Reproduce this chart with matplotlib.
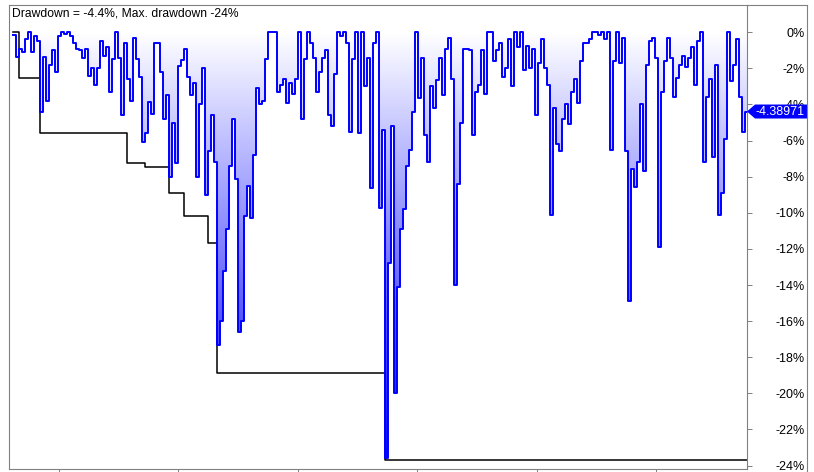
import numpy as np
import matplotlib.pyplot as plt
from matplotlib.colors import LinearSegmentedColormap
from matplotlib.patches import Polygon
from matplotlib.lines import Line2D

plt.rcParams['font.family'] = ['Liberation Sans', 'DejaVu Sans']

# drawdown in %, one value per bar
drawdown = [
    -0.15, -1.35, -0.9, -1.1, -0.35, 0, -1.1, -0.2, -0.5, -4.4,
    -1.35, -3.8, -1.8, -1.0, -2.2, -0.2, 0, -0.1, 0, -0.2,
    -0.6, -0.9, -1.0, -1.4, -0.9, -2.4, -2.0, -2.9, -2.0, -0.5,
    -1.3, -0.8, -3.3, -1.5, 0, -1.4, -4.6, -0.6, -2.6, -3.8,
    -0.3, -1.5, -2.5, -6.1, -5.6, -3.85, -4.5, -0.6, -0.6, -2.2,
    -4.8, -3.5, -8.0, -5.0, -7.25, -1.85, -1.55, -0.9, -2.5, -3.5,
    -2.8, -8.0, -4.0, -2.0, -9.0, -6.6, -4.6, -7.2, -17.3, -16.0,
    -13.2, -10.9, -7.4, -4.8, -8.1, -16.6, -16.0, -10.2, -8.5, -10.3,
    -6.8, -3.1, -4.0, -3.8, -1.5, 0, 0, 0, -3.3, -2.9,
    -2.6, -3.9, -2.8, -3.4, -2.6, 0, -4.8, -1.5, 0, -0.6,
    -1.4, -3.3, -2.2, -1.4, -1.0, -4.6, -5.2, -2.3, 0, -0.2,
    0, -0.6, -5.5, -1.5, 0, -5.6, 0, -3.0, -1.4, -8.65,
    -0.6, 0, -9.75, -5.4, -23.6, -12.8, -5.2, -20.0, -14.1, -10.9,
    -9.8, -7.4, -6.5, -4.4, 0, -3.65, -1.4, -5.7, -7.2, -3.0,
    -4.2, -2.65, -1.4, -3.5, -0.9, -0.3, -2.6, -14.0, -8.4, -5.0,
    -0.9, -0.9, -1.0, -5.7, -3.3, -2.9, -1.0, -3.4, 0, 0,
    -1.6, -1.0, -0.6, -2.5, -2.0, -0.4, -3.0, 0, -0.8, 0,
    -2.1, -0.75, -2.0, -0.9, -4.6, -1.7, -0.4, -2.0, -2.9, -10.1,
    -4.2, -6.2, -6.6, -4.8, -4.0, -5.1, -3.3, -2.6, -3.9, -1.6,
    -0.6, -0.6, -0.4, 0, 0, -0.15, 0, -0.4, 0, -6.5,
    -1.6, 0, -1.7, -0.3, -6.6, -14.9, -7.6, -8.55, -7.2, -4.0,
    -7.7, -1.8, -0.5, -0.3, -1.4, -11.9, -3.3, -1.6, -0.3, -1.4,
    -3.6, -2.55, -1.8, -1.3, -1.9, -1.4, -0.8, -2.9, -0.5, 0,
    -7.2, -3.6, -2.6, -6.9, -1.8, -10.1, -8.9, -5.9, 0, -2.7,
    -1.8, -0.4, -3.6, -5.5, -4.38971,
]

# max drawdown: bar where a new low starts, and its level
maxdd_start = [0, 2, 9, 38, 44, 52, 57, 65, 68, 124]
maxdd_level = [0, -2.55, -5.6, -7.22, -7.48, -8.92, -10.18, -11.69, -18.85, -23.7]

y_ticks = list(range(0, -25, -2))
y_labels = ['%d%%' % t for t in y_ticks]
title = 'Drawdown = -4.4%, Max. drawdown -24%'
last_label = '-4.38971'

W, H = 814, 472
fig = plt.figure(figsize=(W / 100, H / 100), dpi=100)
ax = fig.add_axes([9 / W, 3 / H, 738 / W, 464 / H])

dd = np.array(drawdown)
n = len(dd)
xs = np.arange(n + 1)
ys = np.append(dd, dd[-1])

# gradient fill under the drawdown curve
poly = ax.fill_between(xs, ys, 0, step='post', facecolor='none', edgecolor='none')
grad = np.linspace(0, 1, 256).reshape(-1, 1)
cmap = LinearSegmentedColormap.from_list('dd', ['#ffffff', '#0000ff'])
im = ax.imshow(grad, extent=[0, n, -24, 0], aspect='auto', cmap=cmap,
               origin='upper', zorder=1)
im.set_clip_path(poly.get_paths()[0], transform=ax.transData)

mx = maxdd_start + [n]
my = maxdd_level + [maxdd_level[-1]]
ax.step(mx, my, where='post', color='black', lw=1.1, zorder=2)
ax.step(xs, ys, where='post', color='#0000ff', lw=1.4, zorder=3)

ax.set_xlim(-4 / 3, 734 / 3)
ax.set_ylim(-24.19, 1.51)

gray = '#808080'
for s in ax.spines.values():
    s.set_color(gray)
    s.set_linewidth(0.8)

ax.yaxis.tick_right()
ax.set_yticks(y_ticks)
ax.set_yticklabels(y_labels)
ax.tick_params(axis='y', direction='out', length=3.6, width=0.7, color=gray,
               pad=38.2, labelsize=9)
for lbl in ax.get_yticklabels():
    lbl.set_horizontalalignment('right')

ax.set_xticks(np.arange(15.33, n, 39.8))
ax.tick_params(axis='x', direction='out', length=2.5, width=0.7, color=gray,
               labelbottom=False)

# outer frame around the label area
fig.add_artist(Line2D([747 / W, 807 / W], [1 - 5 / H, 1 - 5 / H], color=gray, lw=0.8))
fig.add_artist(Line2D([807 / W, 807 / W], [0, 1 - 5 / H], color=gray, lw=0.8))

ax.text(12 / W, 1 - 7 / H, title, transform=fig.transFigure, fontsize=8.7,
        va='top', ha='left')

# value label at the right edge
y0, y1 = ax.get_ylim()
ay = (dd[-1] - y0) / (y1 - y0)
pw, ph = 738, 464
pts = [(1, ay), (1 + 8 / pw, ay + 7 / ph), (1 + 60 / pw, ay + 7 / ph),
       (1 + 60 / pw, ay - 7 / ph), (1 + 8 / pw, ay - 7 / ph)]
ax.add_patch(Polygon(pts, closed=True, transform=ax.transAxes, facecolor='#0000ff',
                     edgecolor='none', clip_on=False, zorder=5))
ax.text(1 + 33 / pw, ay, last_label, transform=ax.transAxes, color='white',
        fontsize=9, ha='center', va='center', zorder=6, clip_on=False)

fig.savefig('out.png', dpi=100)
